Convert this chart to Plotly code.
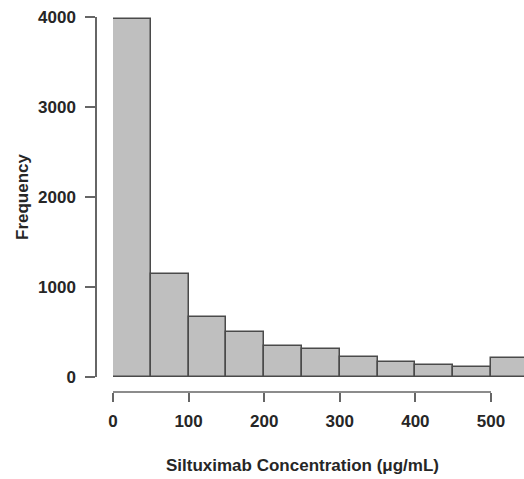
import plotly.graph_objects as go

bin_edges = [0, 50, 100, 150, 200, 250, 300, 350, 400, 450, 500, 550]
frequency = [3980, 1140, 663, 504, 350, 307, 226, 170, 130, 107, 207]
x_ticks = [0, 100, 200, 300, 400, 500]
y_ticks = [0, 1000, 2000, 3000, 4000]

W, H = 524, 479
centers = [(a + b) / 2 for a, b in zip(bin_edges[:-1], bin_edges[1:])]
widths = [b - a for a, b in zip(bin_edges[:-1], bin_edges[1:])]

# pixel geometry
x0_px, x500_px, xaxis_px = 113, 491, 392
y0_px, y4000_px, yaxis_px = 377, 17, 96

FAM = "Liberation Sans, Arial, sans-serif"
TXT = "#262626"
FS = 17

fig = go.Figure(go.Bar(
    x=centers, y=frequency, width=widths,
    marker=dict(color="#bfbfbf", line=dict(color="#4a4a4a", width=1.5)),
))

xmax = 500 * (W - x0_px) / (x500_px - x0_px)
fig.update_layout(
    width=W, height=H,
    margin=dict(l=0, r=0, t=0, b=0),
    plot_bgcolor="white", paper_bgcolor="white",
    showlegend=False, bargap=0,
    font=dict(family=FAM, size=FS, color=TXT),
    xaxis=dict(
        domain=[x0_px / W, 1], range=[0, xmax], anchor="free",
        position=(H - xaxis_px) / H,
        showline=False, showgrid=False, zeroline=False,
        tickmode="array", tickvals=x_ticks, ticktext=[str(v) for v in x_ticks],
        ticks="outside", ticklen=9, tickwidth=1.5, tickcolor="#666666",
        ticklabelstandoff=5, automargin=False,
        tickfont=dict(family=FAM, size=FS, color=TXT, weight="bold"),
    ),
    yaxis=dict(
        domain=[(H - y0_px) / H, (H - y4000_px) / H], range=[0, 4000],
        anchor="free", position=yaxis_px / W,
        showline=True, linecolor="#666666", linewidth=1.5,
        showgrid=False, zeroline=False,
        tickmode="array", tickvals=y_ticks, ticktext=[str(v) for v in y_ticks],
        ticks="outside", ticklen=10, tickwidth=1.5, tickcolor="#666666",
        ticklabelstandoff=6, automargin=False,
        tickfont=dict(family=FAM, size=FS, color=TXT, weight="bold"),
    ),
    shapes=[dict(
        type="line", xref="x", yref="paper",
        x0=x_ticks[0], x1=x_ticks[-1],
        y0=(H - xaxis_px) / H, y1=(H - xaxis_px) / H,
        line=dict(color="#666666", width=1.5),
    )],
    annotations=[
        dict(text="<b>Siltuximab Concentration (μg/mL)</b>", xref="paper", yref="paper",
             x=(x0_px + x500_px) / 2 / W, y=(H - 465) / H, showarrow=False,
             xanchor="center", yanchor="middle",
             font=dict(family=FAM, size=FS, color=TXT)),
        dict(text="<b>Frequency</b>", xref="paper", yref="paper",
             x=22 / W, y=(H - 197) / H, showarrow=False, textangle=-90,
             xanchor="center", yanchor="middle",
             font=dict(family=FAM, size=FS, color=TXT)),
    ],
)

fig.write_html("out.html", config={"displayModeBar": False},
               post_script="document.body.style.margin='0';document.body.style.overflow='hidden';")
